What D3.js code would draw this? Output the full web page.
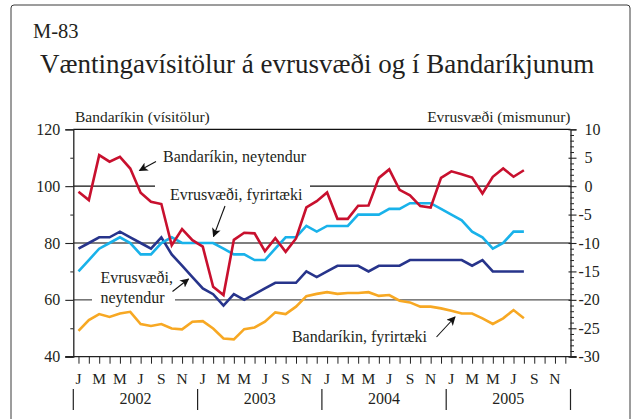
<!DOCTYPE html>
<html>
<head>
<meta charset="utf-8">
<script src="https://cdn.jsdelivr.net/npm/d3@7"></script>
<style>
  html, body { margin: 0; padding: 0; background: #fff; }
  svg { display: block; }
  text { font-family: "Liberation Serif", "Times New Roman", serif; fill: #231f20; }
</style>
</head>
<body>
<svg id="chart" width="638" height="419"></svg>
<script>
// Monthly observations, January 2002 – August 2005
const monthLetters = ["J","F","M","A","M","J","J","A","S","O","N","D"];
const years = ["2002", "2003", "2004", "2005"];

// Bandaríkin, neytendur (index, left axis)
const usConsumers = [98.0, 95.1, 110.9, 108.6, 110.3, 106.2, 97.7, 94.5, 93.7, 79.2, 84.9, 81.0,
  78.7, 64.6, 61.7, 81.1, 83.6, 83.4, 77.1, 81.7, 76.9, 81.6, 92.5, 94.7,
  97.8, 88.5, 88.5, 93.1, 93.2, 102.9, 105.9, 98.7, 96.8, 93.0, 92.5, 102.9,
  105.2, 104.2, 103.0, 97.4, 103.3, 106.2, 103.3, 105.6];

// Bandaríkin, fyrirtæki (index, left axis)
const usBusiness = [49.1, 52.9, 55.0, 54.0, 55.2, 55.8, 51.5, 50.8, 51.5, 49.9, 49.6, 52.3,
  52.5, 49.9, 46.4, 46.1, 49.7, 50.3, 52.3, 55.6, 55.0, 57.6, 61.3, 62.1,
  62.7, 62.1, 62.4, 62.4, 62.7, 61.4, 61.7, 59.7, 59.1, 57.6, 57.6, 57.0,
  56.2, 55.2, 55.2, 53.5, 51.5, 53.5, 56.4, 53.5];

// Evrusvæði, fyrirtæki (balance, right axis)
const euroBusiness = [-15, -13, -11, -10, -9, -10, -12, -12, -10, -9, -10, -10,
  -10, -10, -11, -12, -12, -13, -13, -11, -9, -9, -7, -8,
  -7, -7, -7, -5, -5, -5, -4, -4, -3, -3, -3, -4,
  -5, -6, -8, -9, -11, -10, -8, -8];

// Evrusvæði, neytendur (balance, right axis)
const euroConsumers = [-11, -10, -9, -9, -8, -9, -10, -11, -9, -12, -14, -16,
  -18, -19, -21, -19, -20, -19, -18, -17, -17, -17, -15, -16,
  -15, -14, -14, -14, -15, -14, -14, -14, -13, -13, -13, -13,
  -13, -13, -14, -13, -15, -15, -15, -15];

const leftTicks = [40, 60, 80, 100, 120];
const rightTicks = [-30, -25, -20, -15, -10, -5, 0, 5, 10];

const svg = d3.select("#chart");
const L = 73.3, R = 570.5, T = 129.3, B = 356.7;
const nMonths = years.length * 12;

const x = d3.scaleLinear().domain([0, nMonths]).range([L, R]);
const yL = d3.scaleLinear().domain([40, 120]).range([B, T]);
const yR = d3.scaleLinear().domain([-30, 10]).range([B, T]);

const colors = { red: "#c8102e", orange: "#f7a823", light: "#19b2ea", dark: "#27348b" };

// outer frame
svg.append("rect").attr("x", 11).attr("y", 5).attr("width", 619).attr("height", 440)
  .attr("rx", 3).attr("fill", "none").attr("stroke", "#3a3a3a").attr("stroke-width", 1);

// titles
svg.append("text").attr("x", 33).attr("y", 38).attr("font-size", 20.5).text("M-83");
svg.append("text").attr("x", 40).attr("y", 73).attr("font-size", 27)
  .text("Væntingavísitölur á evrusvæði og í Bandaríkjunum");

svg.append("text").attr("x", 75).attr("y", 122).attr("font-size", 15.5).text("Bandaríkin (vísitölur)");
svg.append("text").attr("x", R).attr("y", 122).attr("font-size", 15.5)
  .attr("text-anchor", "end").text("Evrusvæði (mismunur)");

// horizontal reference lines, broken where labels sit on them
const gridRuns = [
  { v: 120, runs: [[L, R]], c: "#111" },
  { v: 100, runs: [[L, 155], [310, R]], c: "#111" },
  { v: 80, runs: [[L, R]], c: "#555" },
  { v: 60, runs: [[L, 92], [175, R]], c: "#555" }
];
gridRuns.forEach(g => g.runs.forEach(r => {
  svg.append("line").attr("x1", r[0]).attr("x2", r[1])
    .attr("y1", yL(g.v)).attr("y2", yL(g.v))
    .attr("stroke", g.c).attr("stroke-width", 1.3);
}));

// left axis
const leftAxis = svg.append("g").attr("transform", `translate(${L},0)`)
  .call(d3.axisLeft(yL).tickValues(leftTicks).tickSize(8).tickPadding(5).tickFormat(d3.format("d")));
leftAxis.select(".domain").attr("stroke", "#222").attr("stroke-width", 1.3);
leftAxis.selectAll(".tick line").attr("stroke", "#222").attr("stroke-width", 1.1);
leftAxis.selectAll(".tick text").attr("font-size", 16).attr("font-family", "Liberation Serif").attr("fill", "#231f20");
svg.append("g").attr("transform", `translate(${L},0)`)
  .call(d3.axisLeft(yL).tickValues([50, 70, 90, 110]).tickSize(3).tickFormat(""))
  .call(g => g.select(".domain").remove())
  .selectAll("line").attr("stroke", "#222");

// right axis
const rightAxis = svg.append("g").attr("transform", `translate(${R},0)`)
  .call(d3.axisRight(yR).tickValues(rightTicks).tickSize(6).tickPadding(8).tickFormat(d3.format("d")));
rightAxis.select(".domain").attr("stroke", "#222").attr("stroke-width", 1.3);
rightAxis.selectAll(".tick line").attr("stroke", "#222").attr("stroke-width", 1.1).attr("x1", -2);
rightAxis.selectAll(".tick text").attr("font-size", 16).attr("font-family", "Liberation Serif")
  .attr("fill", "#231f20").attr("dx", d => d < 0 ? -6 : 0).text(d => d < 0 ? "-" + Math.abs(d) : d);
svg.append("g").attr("transform", `translate(${R},0)`)
  .call(d3.axisRight(yR).tickValues(d3.range(-30, 11).filter(v => v % 5 !== 0)).tickSize(3.5).tickFormat(""))
  .call(g => g.select(".domain").remove())
  .selectAll("line").attr("stroke", "#222");

// bottom axis: monthly ticks, alternate month letters, year bands
const monthIdx = d3.range(nMonths);
const bottom = svg.append("g").attr("transform", `translate(0,${B})`)
  .call(d3.axisBottom(x).tickValues(monthIdx.map(i => i + 0.5)).tickSize(7).tickFormat(""));
bottom.select(".domain").attr("d", `M${L - 8},0H${R + 6}`).attr("stroke", "#222").attr("stroke-width", 1.3);
bottom.selectAll(".tick line").attr("stroke", "#222").attr("stroke-width", 1);

svg.append("g").selectAll("text").data(monthIdx.filter(i => i % 2 === 0)).join("text")
  .attr("x", i => x(i + 0.5)).attr("y", 384).attr("font-size", 15.5)
  .attr("text-anchor", "middle").text(i => monthLetters[i % 12]);

svg.append("g").selectAll("line").data(d3.range(years.length + 1)).join("line")
  .attr("x1", k => x(k * 12)).attr("x2", k => x(k * 12))
  .attr("y1", 389).attr("y2", 410).attr("stroke", "#222").attr("stroke-width", 1.2);
svg.append("g").selectAll("text").data(years).join("text")
  .attr("x", (d, k) => x(k * 12 + 6)).attr("y", 404).attr("font-size", 16)
  .attr("text-anchor", "middle").text(d => d);

// series
const lineL = d3.line().x((d, i) => x(i + 0.5)).y(d => yL(d));
const lineR = d3.line().x((d, i) => x(i + 0.5)).y(d => yR(d));
const series = [
  { data: usBusiness, gen: lineL, c: colors.orange },
  { data: euroConsumers, gen: lineR, c: colors.dark },
  { data: euroBusiness, gen: lineR, c: colors.light },
  { data: usConsumers, gen: lineL, c: colors.red }
];
series.forEach(s => svg.append("path").datum(s.data).attr("d", s.gen)
  .attr("fill", "none").attr("stroke", s.c).attr("stroke-width", 2.6)
  .attr("stroke-linejoin", "miter").attr("stroke-miterlimit", 3));

// series labels with pointer arrows
svg.append("defs").append("marker").attr("id", "head")
  .attr("viewBox", "0 0 10 10").attr("refX", 9).attr("refY", 5)
  .attr("markerWidth", 9).attr("markerHeight", 9).attr("markerUnits", "userSpaceOnUse")
  .attr("orient", "auto")
  .append("path").attr("d", "M0,0L10,5L0,10L2.5,5Z").attr("fill", "#111");

const labels = [
  { lines: ["Bandaríkin, neytendur"], x: 163, y: 162, anchor: "start" },
  { lines: ["Evrusvæði, fyrirtæki"], x: 170, y: 200, anchor: "start" },
  { lines: ["Evrusvæði,", "neytendur"], x: 100.5, y: 283, anchor: "start" },
  { lines: ["Bandaríkin, fyrirtæki"], x: 427, y: 342, anchor: "end" }
];
labels.forEach(l => l.lines.forEach((t, k) => svg.append("text")
  .attr("x", l.x).attr("y", l.y + k * 20).attr("font-size", 16)
  .attr("text-anchor", l.anchor).text(t)));

const arrows = [
  [156, 161.5, 139.5, 170.5],
  [225, 206, 213.5, 236.5],
  [172.5, 291.5, 188.5, 279],
  [436.5, 337, 455, 317]
];
arrows.forEach(a => svg.append("line").attr("x1", a[0]).attr("y1", a[1]).attr("x2", a[2]).attr("y2", a[3])
  .attr("stroke", "#111").attr("stroke-width", 1.1).attr("marker-end", "url(#head)"));
</script>
</body>
</html>
